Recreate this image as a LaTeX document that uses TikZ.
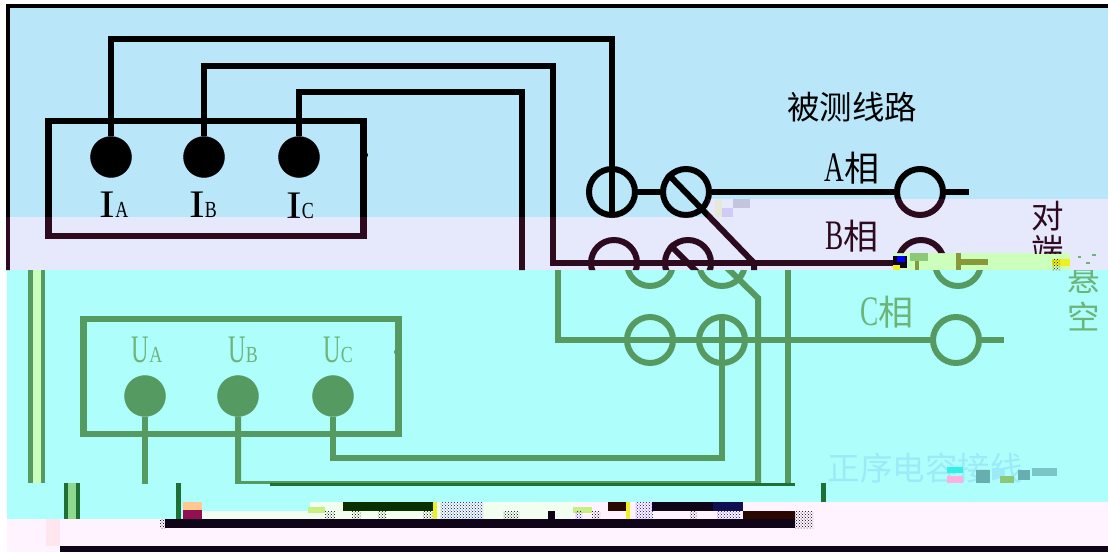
\documentclass[tikz,border=0pt]{standalone}
\usepackage{fontspec}
\usetikzlibrary{patterns}
\setmainfont{Liberation Serif}
\newfontfamily\cjk{Noto Sans CJK SC}
\definecolor{bandblue}{HTML}{B9E6F9}
\definecolor{bandlav}{HTML}{E6E8FC}
\definecolor{bandcyan}{HTML}{AEFFFC}
\definecolor{bandpink}{HTML}{FFF3FF}
\definecolor{bandpale}{HTML}{F2FFF0}
\definecolor{palegreen}{HTML}{CCFFBB}
\definecolor{maroon}{HTML}{2D0A1E}
\definecolor{wiregreen}{HTML}{559A60}
\definecolor{textgreen}{HTML}{6CB47A}
\definecolor{darkgreen}{HTML}{1F7034}
\definecolor{midgreen}{HTML}{8FD98F}
\definecolor{olive}{HTML}{88993A}
\definecolor{leaf}{HTML}{8CC878}
\definecolor{bargreen}{HTML}{0A3000}
\definecolor{barblack}{HTML}{0F0418}
\definecolor{barred}{HTML}{2A0800}
\definecolor{barnavy}{HTML}{101050}
\definecolor{sharp}{HTML}{F0F020}
\definecolor{lime}{HTML}{C8F080}
\definecolor{ghost}{HTML}{9CE9F7}
\definecolor{aqua}{HTML}{30F0E8}
\definecolor{rose}{HTML}{FFB0E0}
\definecolor{blush}{HTML}{FFE6EE}
\definecolor{teal}{HTML}{4A8A90}
\definecolor{sand}{HTML}{FFC890}
\definecolor{plum}{HTML}{901050}
\definecolor{lilac}{HTML}{CFCBF4}
\definecolor{fog}{HTML}{C4C4DC}
\definecolor{cream}{HTML}{E6E8D8}
\tikzset{
    wire/.style={line width=6pt,draw=ink},
    ring/.style={circle,draw=ink,line width=6pt,minimum size=46pt,inner sep=0pt},
    terminal/.style={circle,draw=ink,fill=ink,minimum size=41pt,inner sep=0pt},
    caption/.style={inner sep=0pt,text=ink},
    gritblack/.style={pattern=crosshatch dots,pattern color=black},
    gritblue/.style={pattern=crosshatch dots,pattern color=blue!70!black},
}
\newcommand{\termlabel}[3]{\fontsize{39}{40}\selectfont\scalebox{#3}[1]{#1}\fontsize{23}{24}\selectfont\scalebox{.78}[1]{#2}}
\newcommand{\phaselabel}[1]{\fontsize{42}{44}\selectfont\scalebox{.65}[1]{#1}\cjk\fontsize{35}{37}\selectfont 相}
\newcommand{\cjklabel}[1]{\cjk\fontsize{32.5}{34}\selectfont #1}

% the meter side and the A, B rows
\newcommand{\upperlines}{
    \coordinate (ta) at (612,39);
    \coordinate (tb) at (553,66);
    \coordinate (tc) at (522,92);
    \coordinate (td) at (522,275);
    \coordinate (aend) at (969,192);
    \coordinate (bj) at (754,263);
    \coordinate (bk) at (754,275);
    \coordinate (bn) at (700,275);
    \coordinate (lb) at (7.5,5.5);
    \coordinate (lc) at (1110,5.5);
    \coordinate (ld) at (7.5,275);
    % outer frame
    \draw[line width=4pt,draw=ink] (ld) -- (lb) -- (lc);
    % meter box
    \node[draw=ink,line width=6.5pt,minimum width=315pt,minimum height=115pt,inner sep=0pt] (imeter) at (206,178.5) {};
    \node[circle,fill=ink,minimum size=8pt,inner sep=0pt] (idot) at (364,155) {};
    \node[terminal] (IA) at (111,157) {};
    \node[terminal] (IB) at (204,157) {};
    \node[terminal] (IC) at (299,157) {};
    \node[caption] (lIA) at (114,205) {\termlabel{I}{A}{1.2}};
    \node[caption] (lIB) at (203,205) {\termlabel{I}{B}{1.2}};
    \node[caption] (lIC) at (300,206) {\termlabel{I}{C}{1.2}};
    % A row
    \node[ring] (A1) at (612,192) {};
    \node[ring] (A2) at (686,192) {};
    \node[ring] (A3) at (920,192) {};
    % B row
    \node[ring] (B1) at (614,263) {};
    \node[ring] (B2) at (688,263) {};
    \node[ring] (B3) at (921,263) {};
    % leads
    \draw[wire] (IA) |- (ta) -- (A1.south);
    \draw[wire] (IB) |- (tb) |- (B3);
    \draw[wire] (IC) |- (tc) -- (td);
    \draw[wire] (A1) -- (A2);
    \draw[wire] (A2) -- (A3);
    \draw[wire] (A3) -- (aend);
    \draw[wire] (A2.135) -- (bj) -- (bk);
    \draw[wire] (B2.135) -- (bn);
    % texts
    \node[caption] (title) at (852,107) {\cjklabel{被测线路}};
    \node[caption] (lA) at (852,168) {\phaselabel{A}};
    \node[caption] (lB) at (852,236) {\phaselabel{B}};
    \node[caption] (l1) at (1048,216) {\cjklabel{对}};
    \node[caption] (l2) at (1048,250) {\cjklabel{端}};
}

\begin{document}
\begin{tikzpicture}[x=1pt,y=-1pt]
    \useasboundingbox (0,0) rectangle (1108,552);
    \fill[white] (0,0) rectangle (1108,552);

    % colour bands
    \fill[bandblue] (7,5) -| (1108,199) -| (708,217) -| cycle;
    \fill[bandlav] (7,217) -| (708,199) -| (1108,270) -| cycle;
    \fill[palegreen] (893,253) rectangle (1070,270);
    \fill[bandcyan] (7,270) rectangle (1108,502);
    \fill[bandpink] (7,502) rectangle (1108,552);
    \fill[bandcyan] (7,502) rectangle (310,519);
    \fill[bandpale] (200,511) rectangle (345,519);
    \fill[bandpale] (310,502) rectangle (573,519);
    \fill[blush] (46,519) rectangle (60,546);
    \foreach \xa/\ya/\xb/\yb/\shade in {715/199/722/217/cream, 722/208/733/217/lilac, 733/199/750/208/fog}
        \fill[\shade] (\xa,\ya) rectangle (\xb,\yb);

    % black in the blue part, dark red in the lilac part
    \begin{scope}
        \clip (0,0) -| (1108,199) -| (708,217) -| cycle;
        \colorlet{ink}{black}
        \upperlines
    \end{scope}
    \begin{scope}
        \clip (0,217) -| (708,199) -| (1108,253) -| (893,270) -| cycle;
        \colorlet{ink}{maroon}
        \upperlines
    \end{scope}

    % torn strip at the far end of the B row
    \foreach \xa/\ya/\xb/\yb/\shade in {
        910/253/928/261/leaf, 915/261/919/270/olive, 956/253/961/270/olive, 961/259/988/265/olive,
        893/256/907/268/barblack, 897/256/905/262/blue, 893/265/900/270/sharp, 1052/259/1070/266/sharp,
        1052/259/1060/270/gritblack, 1078/256/1081/258/textgreen, 1092/254/1096/256/textgreen, 1086/262/1090/264/textgreen}
        \fill[\shade] (\xa,\ya) rectangle (\xb,\yb);

    % voltage side and the C row
    \begin{scope}
        \clip (0,270) rectangle (1108,483);
        \colorlet{ink}{wiregreen}
        \fill[palegreen] (31,270) rectangle (43,483);
        \draw[line width=5pt,draw=ink] (30.5,270) -- (30.5,483);
        \draw[line width=4pt,draw=ink] (43,270) -- (43,483);

        \node[draw=ink,line width=6.5pt,minimum width=315pt,minimum height=115pt,inner sep=0pt] (umeter) at (241,376.5) {};
        \node[circle,fill=ink,minimum size=8pt,inner sep=0pt] (udot) at (398,352) {};
        \node[terminal] (UA) at (145,396) {};
        \node[terminal] (UB) at (238,396) {};
        \node[terminal] (UC) at (333,396) {};
        \node[caption,text=textgreen] (lUA) at (147,350) {\termlabel{U}{A}{.62}};
        \node[caption,text=textgreen] (lUB) at (243,350) {\termlabel{U}{B}{.62}};
        \node[caption,text=textgreen] (lUC) at (338,350) {\termlabel{U}{C}{.62}};

        \node[ring] (C1) at (650,340) {};
        \node[ring] (C2) at (722,340) {};
        \node[ring] (C3) at (956,340) {};
        \node[ring] (D1) at (650,263) {};
        \node[ring] (D2) at (722,263) {};
        \node[ring] (D3) at (958,263) {};

        \coordinate (cs) at (558,262);
        \coordinate (cend) at (1004,340);
        \coordinate (ua) at (143,490);
        \coordinate (ub) at (758,484);
        \coordinate (uc) at (722,458);
        \coordinate (dk) at (758,298);
        \coordinate (ja) at (788,262);
        \coordinate (jb) at (788,490);
        \draw[wire] (cs) |- (C3);
        \draw[wire] (C3) -- (cend);
        \draw[wire] (UA) -- (UA |- ua);
        \draw[wire] (UB) |- (ub) -- (dk) -- (D2.center);
        \draw[wire] (UC) |- (uc) -- (C2.north);
        \draw[wire] (ja) -- (jb);

        \node[caption,text=textgreen] (lC) at (887,312) {\phaselabel{C}};
        \node[caption,text=textgreen] (l3) at (1084,280) {\cjklabel{悬}};
        \node[caption,text=textgreen] (l4) at (1084,316) {\cjklabel{空}};
        \node[caption,text=ghost] (note) at (925,468) {\cjklabel{正序电容接线}};
    \end{scope}

    % broken tail of the note
    \foreach \xa/\ya/\xb/\yb/\shade in {
        947/467/963/473/aqua, 947/476/963/483/rose, 976/470/990/483/teal!70!bandcyan, 992/468/1005/478/ghost,
        1000/476/1014/483/leaf, 1018/470/1030/480/teal!70!bandcyan, 1032/468/1057/476/teal!50!bandcyan}
        \fill[\shade] (\xa,\ya) rectangle (\xb,\yb);

    % lower strip
    \fill[midgreen] (64,483) rectangle (80,519);
    \foreach \xa/\ya/\xb/\yb/\shade in {
        64/483/68/519/darkgreen, 76/483/80/519/darkgreen, 176/483/181/519/darkgreen, 821/483/826/502/darkgreen,
        270/483/795/486/darkgreen,
        165/519/795/528/barblack, 160/519/165/528/gritblack, 795/511/813/528/gritblack,
        343/502/433/511/bargreen, 608/502/628/511/barred, 652/502/713/511/barblack, 713/502/743/511/barnavy,
        743/511/795/519/barred, 60/546/1108/552/barblack,
        183/502/202/510/sand, 183/510/202/519/plum, 308/507/325/513/lime, 573/507/592/513/lime,
        325/511/335/519/gritblack, 352/511/361/519/gritblack, 378/511/386/519/gritblack, 423/511/433/519/gritblack,
        433/502/437/519/sharp, 440/502/483/519/gritblue, 503/511/519/519/gritblack, 548/511/555/519/barblack,
        575/511/582/519/gritblue, 592/511/600/519/gritblack, 626/502/630/519/sharp, 635/502/653/519/gritblue,
        690/511/697/519/gritblack, 717/511/740/519/gritblue}
        \fill[\shade] (\xa,\ya) rectangle (\xb,\yb);
\end{tikzpicture}
\end{document}
